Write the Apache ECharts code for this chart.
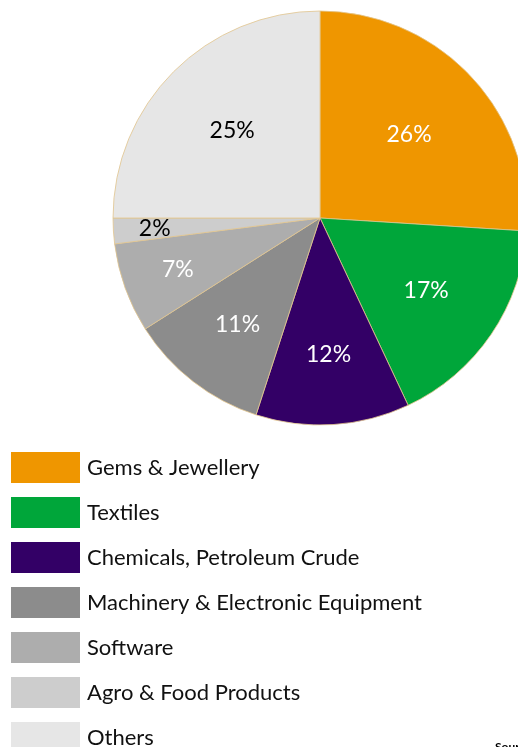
<!DOCTYPE html>
<html>
<head>
<meta charset="utf-8">
<script src="https://cdn.jsdelivr.net/npm/echarts@6/dist/echarts.min.js"></script>
<style>
html,body{margin:0;padding:0;background:#fff;}
#c{width:518px;height:747px;}
</style>
</head>
<body>
<div id="c"></div>
<script>
var categories = ['Gems & Jewellery', 'Textiles', 'Chemicals, Petroleum Crude', 'Machinery & Electronic Equipment', 'Software', 'Agro & Food Products', 'Others'];
var values = [26, 17, 12, 11, 7, 2, 25];
var colors = ['#EF9600', '#00A63A', '#330066', '#8C8C8C', '#ADADAD', '#CDCDCD', '#E6E6E6'];
var labelColors = ['#fff', '#fff', '#fff', '#fff', '#fff', '#000', '#000'];
var labelRadius = [0.59, 0.62, 0.66, 0.65, 0.73, 0.8, 0.6];

var CX = 320, CY = 218, R = 207;
var total = values.reduce(function (a, b) { return a + b; }, 0);
var mids = [];
(function () {
  var cum = 0;
  for (var i = 0; i < values.length; i++) {
    mids.push((cum + values[i] / 2) / total * 2 * Math.PI);
    cum += values[i];
  }
})();

var chart = echarts.init(document.getElementById('c'));
var FONT = 'Lato';
chart.setOption({
  animation: false,
  color: colors,
  title: {
    text: 'Source:',
    left: 495, top: 741, padding: 0,
    textStyle: { fontSize: 12, fontWeight: 'bold', color: '#000', fontFamily: FONT }
  },
  legend: {
    orient: 'vertical',
    left: 11, top: 452, height: 400, padding: 0,
    itemWidth: 69, itemHeight: 31, itemGap: 14,
    icon: 'rect',
    selectedMode: false,
    data: categories,
    itemStyle: { borderWidth: 0 },
    textStyle: { fontSize: 22, color: '#111', fontFamily: FONT, padding: [0, 0, 0, 2] }
  },
  series: [{
    type: 'pie',
    center: [CX, CY],
    radius: [0, R],
    startAngle: 90,
    clockwise: true,
    silent: true,
    itemStyle: { borderColor: '#E2C58E', borderWidth: 0.8 },
    label: {
      show: true,
      position: 'inside',
      formatter: '{c}%',
      fontSize: 23,
      fontFamily: FONT
    },
    labelLine: { show: false },
    labelLayout: function (p) {
      var i = p.dataIndex;
      var a = mids[i];
      var r = labelRadius[i] * R;
      return { x: CX + r * Math.sin(a), y: CY - r * Math.cos(a), align: 'center', verticalAlign: 'middle' };
    },
    data: categories.map(function (c, i) {
      return { name: c, value: values[i], label: { color: labelColors[i] } };
    })
  }]
});
</script>
</body>
</html>
